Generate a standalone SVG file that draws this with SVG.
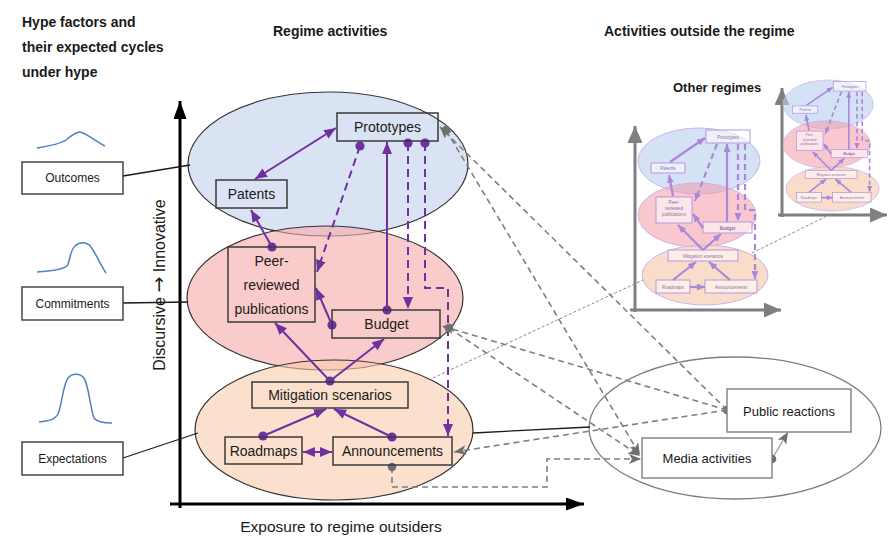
<svg xmlns="http://www.w3.org/2000/svg" width="888" height="539" viewBox="0 0 888 539">
<style>
text{font-family:"Liberation Sans",Arial,sans-serif;fill:#1a1a1a}
.title{font-weight:bold;font-size:14px}
.node{fill:none;stroke:#3a3a3a;stroke-width:1.5}
.nt{font-size:14px;text-anchor:middle}
.fbox{fill:#fff;stroke:#3a3a3a;stroke-width:1.4}
.ft{font-size:12px;text-anchor:middle}
.curve{fill:none;stroke:#4f81bd;stroke-width:1.5}
.pu{fill:none;stroke:#7030a0;stroke-width:2}
.pud{fill:none;stroke:#7030a0;stroke-width:2;stroke-dasharray:8 5}
.gd{fill:none;stroke:#7f7f7f;stroke-width:1.6;stroke-dasharray:6 4}
.ob{fill:#fff;stroke:#7f7f7f;stroke-width:1.4}
.ot{font-size:13px;text-anchor:middle}
.mi{fill:none;stroke:#a988da;stroke-width:2.2}
.mid{fill:none;stroke:#a988da;stroke-width:2.2;stroke-dasharray:6 4}
.mb{fill:#fff;fill-opacity:.55;stroke:#b497e0;stroke-width:1}
.mt{font-size:4.5px;text-anchor:middle;fill:#8a70a8}
.me{stroke:#c9b5ea;stroke-width:1}
.ax{fill:none;stroke:#000;stroke-width:3}
.gax{fill:none;stroke:#7f7f7f;stroke-width:3}
.link{fill:none;stroke:#1a1a1a;stroke-width:1.3}
</style>
<defs>
<marker id="pa" markerUnits="userSpaceOnUse" markerWidth="12" markerHeight="10" viewBox="0 0 12 10" refX="12" refY="5" orient="auto-start-reverse"><path d="M0,0 L12,5 L0,10 z" fill="#7030a0"/></marker>
<marker id="pd" markerUnits="userSpaceOnUse" markerWidth="10" markerHeight="10" viewBox="0 0 10 10" refX="5" refY="5"><circle cx="5" cy="5" r="4.6" fill="#7030a0"/></marker>
<marker id="ga" markerUnits="userSpaceOnUse" markerWidth="12" markerHeight="10" viewBox="0 0 12 10" refX="12" refY="5" orient="auto"><path d="M0,0 L12,5 L0,10 L3,5 z" fill="#6f6f6f"/></marker>
<marker id="gdot" markerUnits="userSpaceOnUse" markerWidth="10" markerHeight="10" viewBox="0 0 10 10" refX="5" refY="5"><circle cx="5" cy="5" r="4.3" fill="#6f6f6f"/></marker>
<marker id="ka" markerUnits="userSpaceOnUse" markerWidth="18" markerHeight="13" viewBox="0 0 18 13" refX="18" refY="6.5" orient="auto"><path d="M0,0 L18,6.5 L0,13 z" fill="#000"/></marker>
<marker id="gka" markerUnits="userSpaceOnUse" markerWidth="17" markerHeight="15" viewBox="0 0 17 15" refX="17" refY="7.5" orient="auto"><path d="M0,0 L17,7.5 L0,15 z" fill="#7f7f7f"/></marker>
<marker id="ma" markerUnits="userSpaceOnUse" markerWidth="8" markerHeight="7" viewBox="0 0 8 7" refX="8" refY="3.5" orient="auto"><path d="M0,0 L8,3.5 L0,7 z" fill="#a988da"/></marker>
<g id="miniRegime">
 <ellipse cx="699" cy="161" rx="61" ry="33" fill="#b9cdee" fill-opacity=".6" class="me"/>
 <ellipse cx="697" cy="215" rx="59" ry="32" fill="#f39aa6" fill-opacity=".55" class="me"/>
 <ellipse cx="705" cy="275" rx="63" ry="30" fill="#f8cdb3" fill-opacity=".7" class="me"/>
 <rect class="mb" x="706" y="130" width="44" height="13"/><text class="mt" x="728" y="138.5">Prototypes</text>
 <rect class="mb" x="651" y="163" width="34" height="10"/><text class="mt" x="668" y="169.5">Patents</text>
 <rect class="mb" x="656" y="197" width="36" height="26"/><text class="mt" x="674" y="204">Peer-</text><text class="mt" x="674" y="210">reviewed</text><text class="mt" x="674" y="216">publications</text>
 <rect class="mb" x="703" y="222" width="49" height="11"/><text class="mt" x="727.5" y="229.5" font-weight="bold">Budget</text>
 <rect class="mb" x="668" y="250" width="70" height="11"/><text class="mt" x="703" y="257.5">Mitigation scenarios</text>
 <rect class="mb" x="656" y="280" width="34" height="13"/><text class="mt" x="673" y="288.5">Roadmaps</text>
 <rect class="mb" x="705" y="280" width="52" height="13"/><text class="mt" x="731" y="288.5">Announcements</text>
 <path class="mi" d="M670,162 L705,138" marker-end="url(#ma)"/>
 <path class="mi" d="M673,196 L669,175" marker-end="url(#ma)"/>
 <path class="mid" d="M717,144 L695,201" marker-end="url(#ma)"/>
 <path class="mi" d="M727,222 L727,144" marker-end="url(#ma)"/>
 <path class="mid" d="M738,144 L738,221" marker-end="url(#ma)"/>
 <path class="mid" d="M745,144 V210 H755 V279" marker-end="url(#ma)"/>
 <path class="mi" d="M703,228 L693,214" marker-end="url(#ma)"/>
 <path class="mi" d="M703,250 L678,225" marker-end="url(#ma)"/>
 <path class="mi" d="M703,250 L721,234" marker-end="url(#ma)"/>
 <path class="mi" d="M673,280 L696,262" marker-end="url(#ma)"/>
 <path class="mi" d="M730,280 L709,262" marker-end="url(#ma)"/>
 <path class="mi" d="M690,287 L705,287" marker-end="url(#ma)"/>
</g>
</defs>

<!-- titles -->
<g id="titles">
 <text class="title" x="22" y="27" font-size="13.5">Hype factors and</text>
 <text class="title" x="22" y="52">their expected cycles</text>
 <text class="title" x="22" y="77">under hype</text>
 <text class="title" x="273" y="36">Regime activities</text>
 <text class="title" x="604" y="36" font-size="14.5">Activities outside the regime</text>
 <text class="title" x="673" y="92" style="font-size:13px">Other regimes</text>
</g>

<!-- hype curves -->
<g id="curves">
 <path class="curve" d="M37,148 C50,146 60,144 66,140 C72,135 76,132 80,132 C86,133 95,141 105,146"/>
 <path class="curve" d="M37,272 C50,271 62,270 67,266 C70,262 70,250 75,246 C80,241 88,242 91,247 C96,254 100,264 106,273"/>
 <path class="curve" d="M39,422 C48,421 55,420 58,414 C62,404 63,385 68,378 C72,373 80,373 84,378 C89,386 90,408 94,418 C97,422 104,423 112,423"/>
</g>

<!-- regime layers -->
<g id="layers">
 <ellipse cx="328" cy="164" rx="140" ry="72" fill="#b4c8e8" fill-opacity=".5" stroke="#333" stroke-width="1.2"/>
 <ellipse cx="325" cy="298" rx="138" ry="72" fill="#f7a8a8" fill-opacity=".6" stroke="#333" stroke-width="1.2"/>
 <ellipse cx="334" cy="430" rx="139" ry="70" fill="#f8cbad" fill-opacity=".6" stroke="#333" stroke-width="1.2"/>
</g>
<ellipse id="outside-ellipse" cx="735" cy="428" rx="146" ry="71" fill="none" stroke="#7f7f7f" stroke-width="1.3"/>

<!-- axes -->
<g id="axes">
 <path class="ax" d="M180,508 V101" marker-end="url(#ka)"/>
 <path class="ax" d="M170,504 H584" marker-end="url(#ka)"/>
 <text x="0" y="0" transform="translate(165,285) rotate(-90)" style="font-size:16px;text-anchor:middle">Discursive <tspan style="font-family:'DejaVu Sans',sans-serif;font-size:19px">→</tspan> Innovative</text>
 <text x="341" y="532" style="font-size:15.5px;text-anchor:middle">Exposure to regime outsiders</text>
</g>

<!-- other regimes -->
<g id="other-regimes">
 <path class="gax" d="M635,312 V126" marker-end="url(#gka)"/>
 <path class="gax" d="M630,310 H781" marker-end="url(#gka)"/>
 <use href="#miniRegime"/>
 <path class="gax" d="M782,217 V88" stroke-width="2.5" marker-end="url(#gka)"/>
 <path class="gax" d="M778,215 H887" stroke-width="2.5" marker-end="url(#gka)"/>
 <use href="#miniRegime" transform="translate(783,80) scale(0.74) translate(-638,-128)"/>
</g>

<!-- connectors -->
<g id="connectors">
 <path class="link" d="M123,176 L190,165"/>
 <path class="link" d="M123,303 L188,302"/>
 <path class="link" d="M123,458 L198,433"/>
 <path class="link" d="M473,433 L590,427" stroke-width="1.6"/>
 <path d="M433,378 L643,280 M752,253 L833,213" fill="none" stroke="#8a8a8a" stroke-width="1" stroke-dasharray="3 2"/>

 <path class="pu" d="M255,179 L336,128" marker-start="url(#pa)" marker-end="url(#pa)"/>
 <path class="pu" d="M272,247 L251,210" marker-start="url(#pd)" marker-end="url(#pa)"/>
 <path class="pud" d="M360,146 L317,272" marker-start="url(#pd)" marker-end="url(#pa)"/>
 <path class="pu" d="M387,310 L387,142" marker-start="url(#pd)" marker-end="url(#pa)"/>
 <path class="pud" d="M408,143 L408,309" marker-start="url(#pd)" marker-end="url(#pa)"/>
 <path class="pud" d="M425,143 V288 H448 V436" marker-start="url(#pd)" marker-end="url(#pa)"/>
 <path class="pu" d="M332,325 L316,288" marker-start="url(#pd)" marker-end="url(#pa)"/>
 <path class="pu" d="M330,381 L275,323" marker-start="url(#pd)" marker-end="url(#pa)"/>
 <path class="pu" d="M330,381 L384,339" marker-end="url(#pa)"/>
 <path class="pu" d="M263,436 L326,409" marker-start="url(#pd)" marker-end="url(#pa)"/>
 <path class="pu" d="M392,437 L334,409" marker-start="url(#pd)" marker-end="url(#pa)"/>
 <path class="pu" d="M303,452 L332,452" marker-start="url(#pa)" marker-end="url(#pa)"/>

 <path class="gd" d="M727,410 L440,127" marker-start="url(#gdot)" marker-end="url(#ga)"/>
 <path class="gd" d="M446,130 L640,455" marker-start="url(#gdot)" marker-end="url(#ga)"/>
 <path class="gd" d="M727,410 L442,326" marker-end="url(#ga)"/>
 <path class="gd" d="M449,328 L640,456" marker-start="url(#gdot)" marker-end="url(#ga)"/>
 <path class="gd" d="M727,410 L454,452" marker-end="url(#ga)"/>
 <path class="gd" d="M392,467 V487 H547 V459 H641" marker-start="url(#gdot)" marker-end="url(#ga)"/>
 <path d="M772,459 L788,432" fill="none" stroke="#9a9a9a" stroke-width="1.3" marker-start="url(#gdot)" marker-end="url(#ga)"/>
</g>

<!-- hype factor nodes -->
<g id="outcomes"><rect class="fbox" x="22" y="162" width="101" height="32"/><text class="ft" x="72.5" y="182">Outcomes</text></g>
<g id="commitments"><rect class="fbox" x="22" y="287" width="101" height="33"/><text class="ft" x="72.5" y="308">Commitments</text></g>
<g id="expectations"><rect class="fbox" x="22" y="442" width="101" height="33"/><text class="ft" x="72.5" y="463">Expectations</text></g>

<!-- regime nodes -->
<g id="prototypes"><rect class="node" x="337" y="113" width="101" height="28"/><text class="nt" x="387.5" y="132">Prototypes</text></g>
<g id="patents"><rect class="node" x="216" y="180" width="71" height="28"/><text class="nt" x="251.5" y="199">Patents</text></g>
<g id="peer-reviewed"><rect class="node" x="228" y="247" width="87" height="75"/><text class="nt" x="271.5" y="266">Peer-</text><text class="nt" x="271.5" y="290">reviewed</text><text class="nt" x="271.5" y="314">publications</text></g>
<g id="budget"><rect class="node" x="332" y="310" width="108" height="28"/><text class="nt" x="386.5" y="329">Budget</text></g>
<g id="mitigation"><rect class="node" x="252" y="382" width="156" height="26"/><text class="nt" x="330" y="400">Mitigation scenarios</text></g>
<g id="roadmaps"><rect class="node" x="225" y="437" width="77" height="27"/><text class="nt" x="263.5" y="455.5">Roadmaps</text></g>
<g id="announcements"><rect class="node" x="333" y="437" width="119" height="28"/><text class="nt" x="392.5" y="456">Announcements</text></g>

<!-- outside nodes -->
<g id="public-reactions"><rect class="ob" x="727" y="389" width="124" height="43"/><text class="ot" x="789" y="415.5">Public reactions</text></g>
<g id="media-activities"><rect class="ob" x="642" y="438" width="130" height="40"/><text class="ot" x="707" y="463">Media activities</text></g>
</svg>
